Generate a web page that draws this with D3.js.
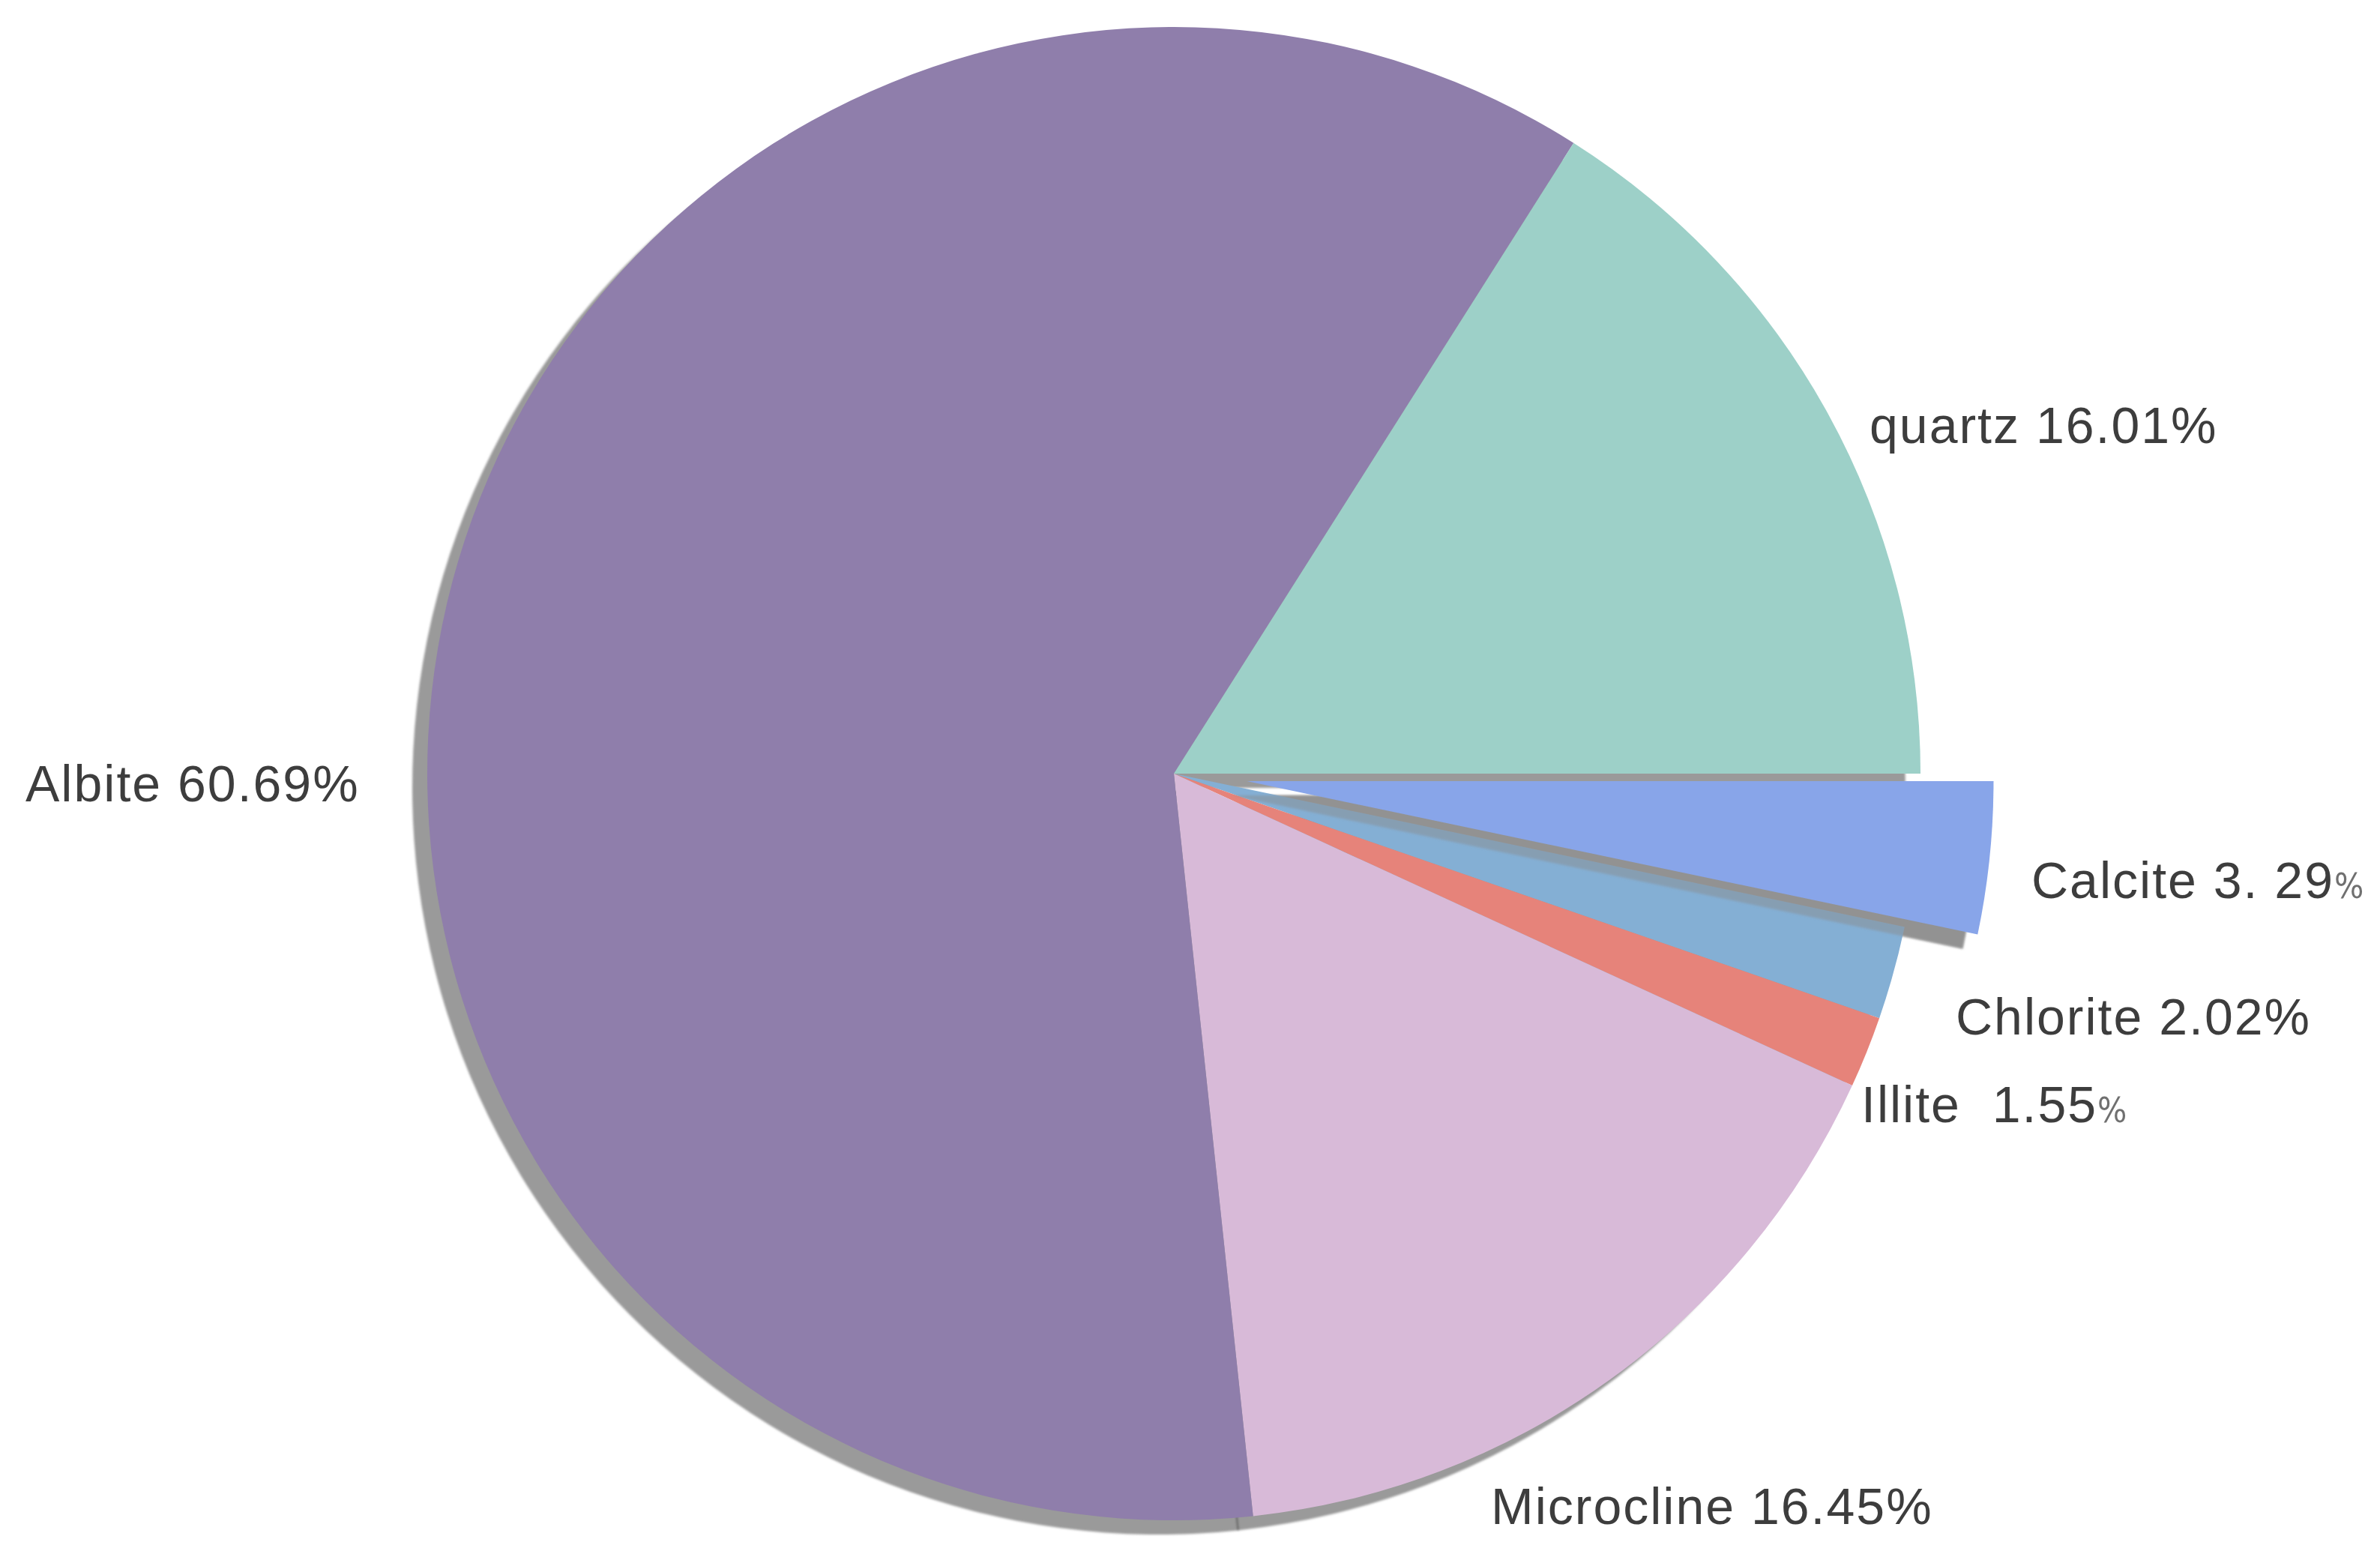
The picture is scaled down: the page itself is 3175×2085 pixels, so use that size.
<!DOCTYPE html>
<html>
<head>
<meta charset="utf-8">
<script src="https://cdn.jsdelivr.net/npm/d3@7"></script>
<style>
  html, body { margin: 0; padding: 0; background: #ffffff; }
  svg { display: block; }
  text { white-space: pre; }
</style>
</head>
<body>
<svg id="chart" width="3175" height="2085"></svg>
<script>
// ---- data ----
const names = ["Calcite", "Chlorite", "Illite", "Microcline", "Albite", "quartz"];
const values = [3.29, 2.02, 1.55, 16.45, 60.69, 16.01];
const labelTexts = ["Calcite 3. 29%", "Chlorite 2.02%", "Illite  1.55%", "Microcline 16.45%", "Albite 60.69%", "quartz 16.01%"];
const colors = ["#88a5e9", "#84afd4", "#e6837a", "#d8bad8", "#8f7eab", "#9dd0c8"];
const explodedName = "Calcite";
const smallPercent = ["Calcite", "Illite"];

// ---- layout ----
const W = 3175, H = 2085;
const cx = 1566, cy = 1032, R = 996;
const explodeDist = 98;
const shadowDx = -20, shadowDy = 19;
const labelAnchor = {
  "quartz": [2494, 591],
  "Albite": [34, 1069],
  "Calcite": [2710, 1198],
  "Chlorite": [2609, 1380],
  "Illite": [2483, 1497],
  "Microcline": [1989, 2033]
};

const data = names.map((n, i) => ({ name: n, value: values[i], label: labelTexts[i], color: colors[i] }));

const svg = d3.select("#chart");
const defs = svg.append("defs");
defs.append("filter").attr("id", "soft")
  .attr("x", "-5%").attr("y", "-5%").attr("width", "110%").attr("height", "110%")
  .append("feGaussianBlur").attr("stdDeviation", 1.6);

const pie = d3.pie().sort(null).value(d => d.value)
  .startAngle(Math.PI / 2).endAngle(Math.PI / 2 + 2 * Math.PI);
const arcs = pie(data);
const arc = d3.arc().innerRadius(0).outerRadius(R);

function offsetOf(a) {
  if (a.data.name !== explodedName) return [0, 0];
  const mid = (a.startAngle + a.endAngle) / 2;
  return [Math.sin(mid) * explodeDist, -Math.cos(mid) * explodeDist];
}
const shadowTransform = d => {
  const o = offsetOf(d);
  return `translate(${o[0] + shadowDx},${o[1] + shadowDy})`;
};

const g = svg.append("g").attr("transform", `translate(${cx},${cy})`);

// shadow layer for all slices
const shadow = g.append("g").attr("filter", "url(#soft)");
shadow.selectAll("path.sh")
  .data(arcs)
  .join("path")
  .attr("class", "sh")
  .attr("d", arc)
  .attr("fill", "#9a9a9a")
  .attr("transform", shadowTransform);
// seams in the shadow
shadow.selectAll("line.seam")
  .data(arcs.filter(d => d.data.name !== explodedName))
  .join("line")
  .attr("class", "seam")
  .attr("x1", shadowDx).attr("y1", shadowDy)
  .attr("x2", d => shadowDx + Math.sin(d.startAngle) * R)
  .attr("y2", d => shadowDy - Math.cos(d.startAngle) * R)
  .attr("stroke", "#555")
  .attr("stroke-width", 2);

// regular slices
g.selectAll("path.slice")
  .data(arcs.filter(d => d.data.name !== explodedName))
  .join("path")
  .attr("class", "slice")
  .attr("d", arc)
  .attr("fill", d => d.data.color);

// exploded slice: faint shadow over the pie, then the slice itself
const ex = arcs.filter(d => d.data.name === explodedName);
g.append("g").attr("filter", "url(#soft)")
  .selectAll("path")
  .data(ex)
  .join("path")
  .attr("d", arc)
  .attr("fill", "#8a8a8a")
  .attr("fill-opacity", 0.45)
  .attr("transform", shadowTransform);
g.selectAll("path.exslice")
  .data(ex)
  .join("path")
  .attr("class", "exslice")
  .attr("d", arc)
  .attr("fill", d => d.data.color)
  .attr("transform", d => {
    const o = offsetOf(d);
    return `translate(${o[0]},${o[1]})`;
  });

// labels
const labels = svg.append("g")
  .attr("font-family", "'Liberation Sans', Arial, Helvetica, sans-serif")
  .attr("font-size", 68)
  .attr("letter-spacing", 2)
  .attr("fill", "#3d3d3d");

data.forEach(d => {
  const p = labelAnchor[d.name];
  const t = labels.append("text").attr("x", p[0]).attr("y", p[1]);
  if (smallPercent.includes(d.name)) {
    t.append("tspan").text(d.label.slice(0, -1));
    t.append("tspan")
      .attr("font-family", "'Liberation Sans Narrow', 'DejaVu Sans Condensed', 'Liberation Sans', sans-serif")
      .attr("font-size", 46)
      .attr("letter-spacing", 0)
      .attr("fill", "#707070")
      .text("%");
  } else {
    t.text(d.label);
  }
});
</script>
</body>
</html>
